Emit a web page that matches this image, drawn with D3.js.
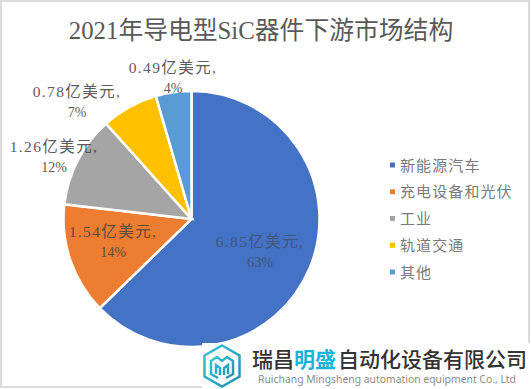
<!DOCTYPE html>
<html>
<head>
<meta charset="utf-8">
<script src="https://cdn.jsdelivr.net/npm/d3@7"></script>
<style>
  html, body { margin: 0; padding: 0; background: #fff; overflow: hidden; }
  text { font-family: "Liberation Serif", "Noto Sans CJK SC", serif; }
</style>
</head>
<body>
<svg id="chart" width="531" height="389"></svg>
<script>
const titleText = "2021年导电型SiC器件下游市场结构";
const categories = ["新能源汽车", "充电设备和光伏", "工业", "轨道交通", "其他"];
const amounts = [6.85, 1.54, 1.26, 0.78, 0.49];
const amountLabels = ["6.85亿美元,", "1.54亿美元,", "1.26亿美元,", "0.78亿美元,", "0.49亿美元,"];
const percentLabels = ["63%", "14%", "12%", "7%", "4%"];
const colors = ["#4472c4", "#ed7d31", "#a5a5a5", "#ffc000", "#5b9bd5"];

const svg = d3.select("#chart");

// frame of the screenshot
svg.append("rect")
    .attr("x", 1).attr("y", 1)
    .attr("width", 528).attr("height", 386)
    .attr("fill", "#fff")
    .attr("stroke", "#dcdcdc")
    .attr("stroke-width", 2);

svg.append("text")
    .attr("x", 261)
    .attr("y", 39)
    .attr("text-anchor", "middle")
    .attr("font-size", 24.8)
    .attr("fill", "#595959")
    .text(titleText);

const cx = 191.5, cy = 219, radius = 128;

const pie = d3.pie().sort(null).value(d => d);
const arc = d3.arc().innerRadius(0).outerRadius(radius);

const g = svg.append("g").attr("transform", "translate(" + cx + "," + cy + ")");

g.selectAll("path.slice")
    .data(pie(amounts))
    .enter()
    .append("path")
    .attr("class", "slice")
    .attr("d", arc)
    .attr("fill", (d, i) => colors[i])
    .attr("stroke", "#fff")
    .attr("stroke-width", 2.5);

// data labels sit at hand-read spots, like a moved Excel label
const labelX = [260, 113, 54, 77, 173];
const labelY = [247, 237, 152, 97, 73];
const labelOpacity = [0.55, 0.8, 0.85, 0.85, 0.85];

const labels = svg.append("g");
amountLabels.forEach((t, i) => {
    const lab = labels.append("text")
        .attr("text-anchor", "middle")
        .attr("fill", "#404040")
        .style("opacity", labelOpacity[i]);
    lab.append("tspan")
        .attr("x", labelX[i]).attr("y", labelY[i])
        .attr("font-size", 15.5)
        .attr("letter-spacing", 1.4)
        .text(t);
    lab.append("tspan")
        .attr("x", labelX[i]).attr("y", labelY[i] + 20)
        .attr("font-size", 14)
        .text(percentLabels[i]);
});

// legend
const legendY = d3.scalePoint().domain(categories).range([165, 272]);
const legend = svg.append("g").selectAll("g")
    .data(categories)
    .enter()
    .append("g")
    .attr("transform", d => "translate(390," + legendY(d) + ")");

legend.append("rect")
    .attr("x", 0).attr("y", -2.5)
    .attr("width", 5).attr("height", 5)
    .attr("fill", (d, i) => colors[i]);

legend.append("text")
    .attr("x", 10)
    .attr("y", 5.5)
    .attr("font-size", 15)
    .attr("letter-spacing", 1.1)
    .attr("fill", "#7a7a7a")
    .text(d => d);

// company watermark over the bottom right corner
const wm = svg.append("g");
wm.append("rect")
    .attr("x", 202).attr("y", 343)
    .attr("width", 329).attr("height", 46)
    .attr("fill", "#fff");

const defs = svg.append("defs");
const grad = defs.append("linearGradient").attr("id", "logoGrad")
    .attr("x1", 0).attr("y1", 0).attr("x2", 1).attr("y2", 1);
grad.append("stop").attr("offset", "0%").attr("stop-color", "#35c7d6");
grad.append("stop").attr("offset", "100%").attr("stop-color", "#1f8fb3");

const logo = wm.append("g").attr("transform", "translate(222,366)");
logo.append("path")
    .attr("d", "M0,-20.5 L17.5,-10.5 L17.5,10.5 L0,20.5 L-17.5,10.5 L-17.5,-10.5 Z")
    .attr("fill", "none")
    .attr("stroke", "url(#logoGrad)")
    .attr("stroke-width", 2.5);
logo.append("path")
    .attr("d", "M-4,12 L-11,8 L-11,-5 L-5,-9 L0,-5 L5,-9 L11,-5 L11,8 L4,12 M-6,8 L-6,-1 L-2,2 L-2,9 M6,8 L6,-1 L2,2 L2,9")
    .attr("fill", "none")
    .attr("stroke", "url(#logoGrad)")
    .attr("stroke-width", 2.5);

const nameRow = wm.append("text")
    .attr("x", 252)
    .attr("y", 367)
    .attr("font-size", 21)
    .attr("font-weight", 500)
    .style("font-family", '"Noto Sans CJK SC", sans-serif')
    .attr("fill", "#333");
nameRow.append("tspan").text("瑞昌");
nameRow.append("tspan").attr("fill", "#18b4d8").attr("font-weight", 700).text("明盛");
nameRow.append("tspan").attr("dx", 2).text("自动化设备有限公司");

wm.append("text")
    .attr("x", 258)
    .attr("y", 383)
    .attr("font-size", 10.5)
    .attr("textLength", 258)
    .attr("lengthAdjust", "spacingAndGlyphs")
    .style("font-family", '"Noto Sans", sans-serif')
    .attr("fill", "#8c8c8c")
    .text("Ruichang Mingsheng automation equipment Co., Ltd");
</script>
</body>
</html>
